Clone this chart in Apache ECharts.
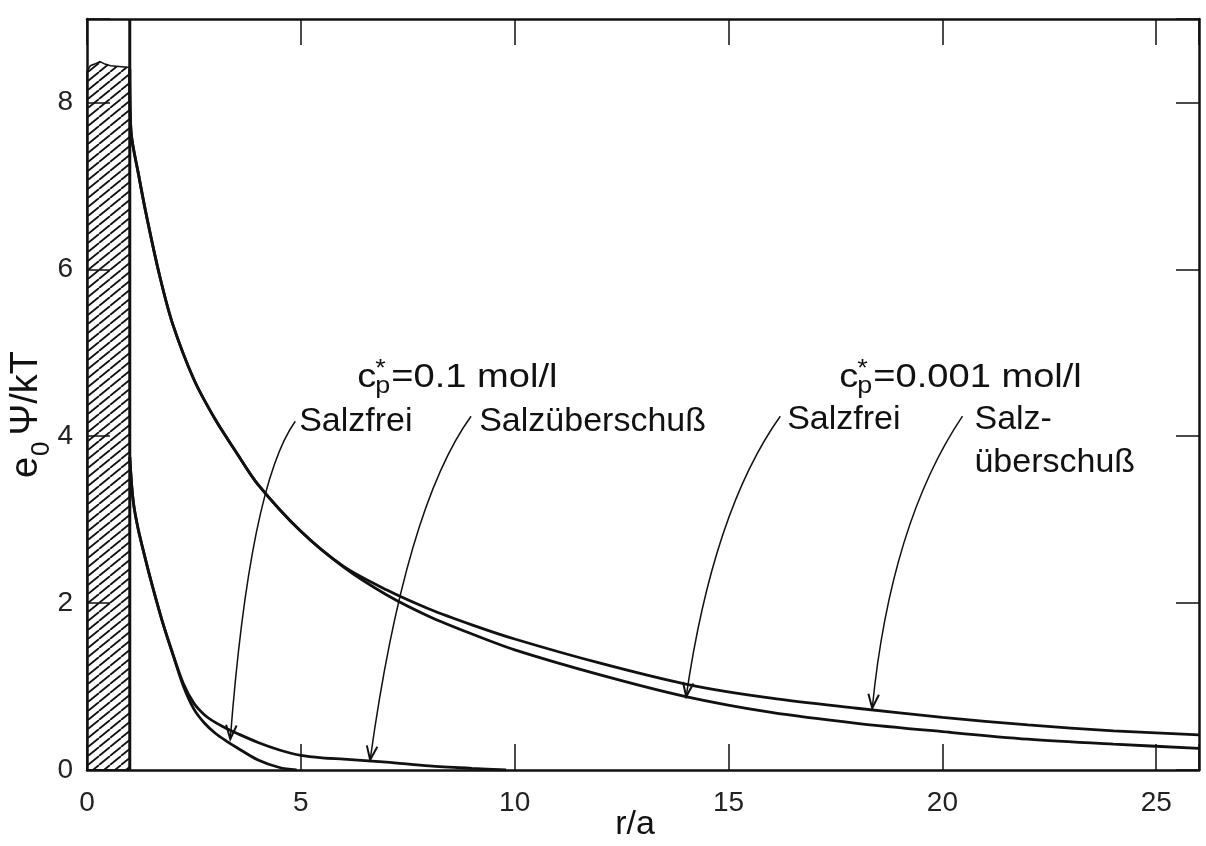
<!DOCTYPE html>
<html>
<head>
<meta charset="utf-8">
<script src="https://cdn.jsdelivr.net/npm/echarts@6/dist/echarts.min.js"></script>
<style>
  html, body { margin: 0; padding: 0; background: #fff; }
  #chart { width: 1206px; height: 846px; }
</style>
</head>
<body>
<div id="chart"></div>
<script>
// Reduced electrostatic potential e0Ψ/kT around a charged particle (radius a)
// versus distance r/a, salt-free cell model vs. salt excess, two concentrations.

// c*p = 0.001 mol/l, salt excess
const rUeber001   = [1.0, 1.03, 1.2, 1.4, 1.7, 2.0, 2.5, 3.0, 3.5, 4.0, 5.0, 6.0, 7.0, 8.0, 9.0, 10.0, 12.0, 14.0, 16.0, 18.0, 20.0, 22.0, 24.0, 26.0];
const psiUeber001 = [8.4, 7.65, 7.15, 6.62, 5.92, 5.35, 4.68, 4.2, 3.8, 3.42, 2.86, 2.44, 2.16, 1.93, 1.74, 1.57, 1.28, 1.03, 0.86, 0.74, 0.63, 0.54, 0.47, 0.42];

// c*p = 0.001 mol/l, salt-free
const rFrei001   = [1.0, 1.03, 1.2, 1.4, 1.7, 2.0, 2.5, 3.0, 3.5, 4.0, 5.0, 6.0, 7.0, 8.0, 9.0, 10.0, 12.0, 14.0, 16.0, 18.0, 20.0, 22.0, 24.0, 26.0];
const psiFrei001 = [8.4, 7.65, 7.15, 6.62, 5.92, 5.35, 4.68, 4.2, 3.8, 3.42, 2.86, 2.43, 2.10, 1.84, 1.63, 1.44, 1.14, 0.88, 0.69, 0.56, 0.46, 0.37, 0.31, 0.26];

// c*p = 0.1 mol/l, salt excess
const rUeber01   = [1.0, 1.05, 1.1, 1.2, 1.35, 1.5, 1.75, 2.0, 2.25, 2.5, 2.75, 3.0, 3.25, 3.5, 4.0, 4.5, 5.0, 5.5, 6.0, 7.0, 8.0, 9.0, 9.8];
const psiUeber01 = [3.75, 3.38, 3.15, 2.88, 2.56, 2.26, 1.8, 1.4, 1.04, 0.8, 0.66, 0.57, 0.5, 0.44, 0.33, 0.24, 0.175, 0.145, 0.13, 0.095, 0.05, 0.02, 0.0];

// c*p = 0.1 mol/l, salt-free
const rFrei01   = [1.0, 1.05, 1.1, 1.2, 1.35, 1.5, 1.75, 2.0, 2.25, 2.5, 2.75, 3.0, 3.25, 3.5, 4.0, 4.5, 4.9];
const psiFrei01 = [3.75, 3.38, 3.15, 2.88, 2.56, 2.26, 1.8, 1.4, 1.01, 0.73, 0.56, 0.44, 0.35, 0.27, 0.12, 0.03, 0.0];

// particle interior (0 ≤ r/a ≤ 1), hatched, with a ragged top edge
const particleR = 1;
const hatchTop  = [[0, 8.37], [0.08, 8.44], [0.18, 8.46], [0.3, 8.49], [0.42, 8.46], [0.55, 8.44], [0.75, 8.43], [1, 8.42]];

// axis ranges and tick steps
const xMax = 26, xStep = 5;
const yMax = 9,  yStep = 2;

// curve labels and the curved arrows that point from them to the curves
const labelText = ['Salzfrei', 'Salzüberschuß', 'Salzfrei', 'Salz-', 'überschuß'];
const labelPos  = [[4.96, 4.17], [9.17, 4.17], [16.37, 4.20], [20.75, 4.20], [20.75, 3.68]];

const concText = ['=0.1 mol/l', '=0.001 mol/l'];
const concPos  = [[6.32, 4.70], [17.59, 4.70]];

const arrowStart = [[4.87, 4.18], [8.98, 4.24], [16.21, 4.24], [20.47, 4.24]];
const arrowBend  = [[3.81, 3.42], [7.44, 3.15], [14.64, 3.11], [18.79, 2.96]];
const arrowTip   = [[3.35, 0.37], [6.62, 0.12], [14.01, 0.88], [18.36, 0.74]];

const FONT = '"Liberation Sans", Arial, Helvetica, sans-serif';
const INK = '#111';

const zip = (xs, ys) => xs.map((x, i) => [x, ys[i]]);

// diagonal hatch tile
function hatchTile() {
  const c = document.createElement('canvas');
  c.width = 11; c.height = 9;
  const g = c.getContext('2d');
  g.strokeStyle = '#111';
  g.lineWidth = 1.8;
  g.beginPath();
  g.moveTo(0, 9); g.lineTo(11, 0);
  g.moveTo(-11, 9); g.lineTo(0, 0);
  g.moveTo(11, 9); g.lineTo(22, 0);
  g.stroke();
  return c;
}
const hatchFill = { image: hatchTile(), repeat: 'repeat' };

const measureCtx = document.createElement('canvas').getContext('2d');
function textWidth(t, size) {
  measureCtx.font = size + 'px ' + FONT;
  return measureCtx.measureText(t).width;
}

function curve(name, xs, ys) {
  return {
    name, type: 'line', data: zip(xs, ys), showSymbol: false, symbol: 'none',
    smooth: 0.3, z: 4,
    lineStyle: { color: INK, width: 2.8 }
  };
}

const chart = echarts.init(document.getElementById('chart'));

const axisLine = { show: true, onZero: false, lineStyle: { color: INK, width: 2.5 } };
const tickStyle = { color: INK, width: 1.5 };

chart.setOption({
  animation: false,
  backgroundColor: '#fff',
  grid: { left: 87, right: 7, top: 19, bottom: 76, containLabel: false, outerBoundsMode: 'none' },
  xAxis: [
    {
      type: 'value', min: 0, max: xMax, interval: xStep, position: 'bottom',
      name: 'r/a', nameLocation: 'middle', nameGap: 38, nameMoveOverlap: false,
      nameTextStyle: { fontFamily: FONT, fontSize: 34, color: '#111', padding: [0, 16, 0, 0] },
      axisLine,
      axisTick: { show: true, inside: true, length: 26, lineStyle: tickStyle },
      axisLabel: { margin: 19, fontFamily: FONT, fontSize: 28, color: '#222',
        formatter: v => (v % xStep === 0 ? String(v) : '') },
      splitLine: { show: false }
    },
    {
      type: 'value', min: 0, max: xMax, interval: xStep, position: 'top',
      axisLine,
      axisTick: { show: true, inside: true, length: 26, lineStyle: tickStyle },
      axisLabel: { show: false }, splitLine: { show: false }
    }
  ],
  yAxis: [
    {
      type: 'value', min: 0, max: yMax, interval: yStep, position: 'left',
      name: '{t|e}{s|0}{t|Ψ/kT}', nameLocation: 'middle', nameGap: 32, nameRotate: 90,
      nameMoveOverlap: false,
      nameTextStyle: {
        color: '#111',
        padding: [0, 40, 0, 0],
        rich: {
          t: { fontFamily: FONT, fontSize: 38, lineHeight: 56, verticalAlign: 'middle', color: '#111' },
          s: { fontFamily: FONT, fontSize: 26, lineHeight: 56, verticalAlign: 'bottom', color: '#111', padding: [0, 6, 0, 1] }
        }
      },
      axisLine,
      axisTick: { show: true, inside: true, length: 23, lineStyle: tickStyle },
      axisLabel: { margin: 14, fontFamily: FONT, fontSize: 28, color: '#222',
        formatter: v => (v % yStep === 0 ? String(v) : '') },
      splitLine: { show: false }
    },
    {
      type: 'value', min: 0, max: yMax, interval: yStep, position: 'right',
      axisLine,
      axisTick: { show: true, inside: true, length: 23, lineStyle: tickStyle },
      axisLabel: { show: false }, splitLine: { show: false }
    }
  ],
  series: [
    // hatched particle cross-section
    {
      type: 'custom', z: 1, silent: true,
      data: [0],
      renderItem(params, api) {
        const pts = [[0, 0]].concat(hatchTop, [[particleR, 0]]).map(p => api.coord(p));
        return {
          type: 'polygon',
          shape: { points: pts },
          style: { fill: hatchFill, stroke: INK, lineWidth: 1.5 }
        };
      }
    },
    // particle surface r = a
    {
      type: 'line', data: [[particleR, 0], [particleR, yMax]], symbol: 'none', z: 3,
      lineStyle: { color: INK, width: 3 }
    },
    curve('Salzüberschuß 0.001', rUeber001, psiUeber001),
    curve('Salzfrei 0.001', rFrei001, psiFrei001),
    curve('Salzüberschuß 0.1', rUeber01, psiUeber01),
    curve('Salzfrei 0.1', rFrei01, psiFrei01),
    // curved pointer arrows
    {
      type: 'custom', z: 5, silent: true,
      data: arrowStart.map((_, i) => i),
      renderItem(params, api) {
        const i = params.dataIndex;
        const a = api.coord(arrowStart[i]);
        const c = api.coord(arrowBend[i]);
        const b = api.coord(arrowTip[i]);
        let dx = b[0] - c[0], dy = b[1] - c[1];
        const len = Math.hypot(dx, dy);
        dx /= len; dy /= len;
        const L = 15, th = 0.36;
        const rot = (ang) => [
          b[0] - L * (dx * Math.cos(ang) - dy * Math.sin(ang)),
          b[1] - L * (dx * Math.sin(ang) + dy * Math.cos(ang))
        ];
        return {
          type: 'group',
          children: [
            {
              type: 'bezierCurve',
              shape: { x1: a[0], y1: a[1], cpx1: c[0], cpy1: c[1], x2: b[0], y2: b[1] },
              style: { stroke: INK, lineWidth: 1.5, fill: null }
            },
            {
              type: 'polyline',
              shape: { points: [rot(th), b, rot(-th)] },
              style: { stroke: INK, lineWidth: 2, fill: null }
            }
          ]
        };
      }
    },
    // curve names
    {
      type: 'custom', z: 6, silent: true,
      data: labelText.map((_, i) => i),
      renderItem(params, api) {
        const i = params.dataIndex;
        const p = api.coord(labelPos[i]);
        return {
          type: 'text',
          style: { text: labelText[i], x: p[0], y: p[1], fill: '#111',
            font: '34px ' + FONT, align: 'left', verticalAlign: 'middle' }
        };
      }
    },
    // concentration headings c*p = ...
    {
      type: 'custom', z: 6, silent: true,
      data: concText.map((_, i) => i),
      renderItem(params, api) {
        const i = params.dataIndex;
        const p = api.coord(concPos[i]);
        const big = 34, small = 24;
        const wc = textWidth('c', big);
        const wp = textWidth('p', small);
        const base = { fill: '#111', align: 'left', verticalAlign: 'middle' };
        return {
          type: 'group',
          x: p[0], y: p[1], scaleX: 1.12,
          children: [
            { type: 'text', style: Object.assign({ text: 'c', x: 0, y: 0, font: big + 'px ' + FONT }, base) },
            { type: 'text', style: Object.assign({ text: '*', x: wc - 1, y: -8, font: small + 'px ' + FONT }, base) },
            { type: 'text', style: Object.assign({ text: 'p', x: wc - 1, y: 9, font: small + 'px ' + FONT }, base) },
            { type: 'text', style: Object.assign({ text: concText[i], x: wc + wp, y: 0, font: big + 'px ' + FONT }, base) }
          ]
        };
      }
    }
  ]
});
</script>
</body>
</html>
